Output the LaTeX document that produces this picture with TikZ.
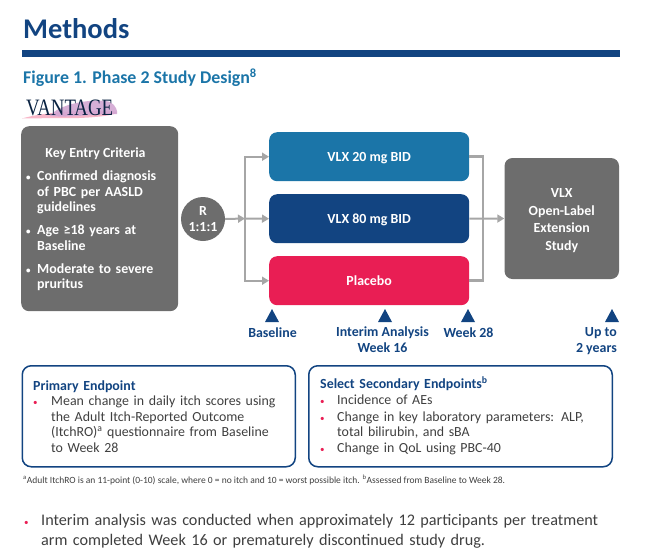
\documentclass[tikz,border=0pt]{standalone}
\usepackage{fontspec}
\usetikzlibrary{arrows.meta}
\setmainfont{Carlito}
\definecolor{navy}{HTML}{124481}
\definecolor{teal}{HTML}{1B75A8}
\definecolor{rose}{HTML}{E91E54}
\definecolor{slate}{HTML}{6D6D6D}
\definecolor{pipe}{HTML}{A6A6A6}
\definecolor{ink}{HTML}{3F3F3F}
\newcommand{\dotmark}{{\fontsize{9}{9}\selectfont\textbullet}}
\newcommand{\bul}[1]{\par\hangindent=#1\hangafter=1\noindent\makebox[#1][l]{\dotmark}}
\newcommand{\rbul}[1]{\par\hangindent=#1\hangafter=1\noindent\makebox[#1][l]{\textcolor{rose}{\dotmark}}}
\newcommand{\brk}{\hfill\break}
\begin{document}
\begin{tikzpicture}[x=1pt,y=-1pt]
  \tikzstyle{boldtext}=[font=\fontsize{13.9}{15.5}\selectfont\bfseries]
  \tikzstyle{graybox}=[fill=slate, text=white, rounded corners=8pt, inner sep=0pt, boldtext]
  \tikzstyle{arm}=[rounded corners=8pt, text=white, minimum width=200pt, minimum height=49pt, inner sep=0pt, text height=9pt, text depth=0pt, boldtext]
  \tikzstyle{pipeline}=[draw=pipe, line width=2.5pt]
  \tikzstyle{flow}=[draw=pipe, line width=2pt, -{Triangle[length=7pt,width=8pt]}]
  \tikzstyle{when}=[text=navy, inner sep=0pt, align=center, boldtext, anchor=base]
  \tikzstyle{endpoint}=[draw=navy, line width=1.5pt, rounded corners=9pt, anchor=north west, inner sep=0pt]
  \tikzstyle{bodytext}=[text=ink, inner sep=0pt, anchor=north west, font=\fontsize{13.9}{15.5}\selectfont]
  \useasboundingbox (0,0) rectangle (645,558);
  % heading
  \node[anchor=base west, inner sep=0pt, text=navy, font=\fontsize{28.5}{30}\selectfont\bfseries] (title) at (23,38) {Methods};
  \fill[navy] (22,50) rectangle (620,56.5);
  \node[anchor=base west, inner sep=0pt, text=teal, font=\fontsize{17.9}{20}\selectfont\bfseries] (figtitle) at (23,83.5) {Figure 1. Phase 2 Study Design\textsuperscript{8}};
  % logo with its brush stroke
  \fill[rose!40, opacity=.8] (22,118.5) .. controls (40,113) and (80,109) .. (117,112) .. controls (118,116) and (80,119) .. (60,118) -- cycle;
  \fill[violet!35!white, opacity=.9] (50,116) .. controls (60,102) and (100,98) .. (110,102) .. controls (116,105) and (118,112) .. (117,114) .. controls (90,114) and (70,118) .. (50,116) -- cycle;
  \node[anchor=base west, inner sep=0pt, text=navy!50!black, font=\fontspec{Liberation Serif}\fontsize{23.5}{24}\selectfont] (logo) at (26,115) {\scalebox{0.8}[1]{VANTAGE}};
  % criteria and randomisation
  \node[graybox, minimum width=157pt, minimum height=185pt, anchor=north west] (criteria) at (21,126) {};
  \node[anchor=base, inner sep=0pt, text=white, boldtext] (critlabel) at (95.5,157.7) {Key Entry Criteria};
  \node[inner sep=0pt, anchor=north west, text width=145pt, text=white, boldtext] (critlist) at (26,157.5) {%
    \parskip=7.5pt
    \bul{11pt}Confirmed diagnosis\brk of PBC per AASLD\brk guidelines
    \bul{11pt}Age ≥18 years at\brk Baseline
    \bul{11pt}Moderate to severe\brk pruritus\par};
  \node[circle, fill=slate, text=white, minimum size=44pt, inner sep=0pt, align=center, boldtext] (rand) at (203,219) {R\\1:1:1};
  % treatment arms
  \node[arm, fill=teal, anchor=north west] (armlow) at (269,132) {VLX 20 mg BID};
  \node[arm, fill=navy, anchor=north west] (armhigh) at (269,194) {VLX 80 mg BID};
  \node[arm, fill=rose, anchor=north west] (armplacebo) at (269,256) {Placebo};
  \node[graybox, minimum width=114.5pt, minimum height=121pt] (extension) at (561.75,218.5) {};
  \node[align=center, inner sep=0pt, text=white, font=\fontsize{13.9}{17.4}\selectfont\bfseries] (exttext) at (561.75,220.5) {VLX\\Open-Label\\Extension\\Study};
  % connectors
  \coordinate (split) at (245,218.5);
  \coordinate (join) at (483,218.5);
  \draw[flow] (rand.east) -- (split);
  \draw[flow] (split) -- (armhigh.west);
  \draw[flow] (split) |- (armlow.west);
  \draw[flow] (split) |- (armplacebo.west);
  \draw[pipeline] (armlow.east) -| (join);
  \draw[pipeline] (armplacebo.east) -| (join);
  \draw[flow] (armhigh.east) -- (extension.west);
  % timeline
  \foreach \name/\xpos in {base/272, interim/385, wk/468, ext/612}
    \fill[navy] (\xpos-7,322) -- (\xpos,309) -- (\xpos+7,322) -- cycle;
  \node[when] (baselabel) at (272.5,337) {Baseline};
  \node[when] (interimlabel) at (382.5,352) {Interim Analysis\\Week 16};
  \node[when] (wklabel) at (468.5,337) {Week 28};
  \node[when, align=right, anchor=base east] (extlabel) at (617,352) {Up to\\2 years};
  % endpoints
  \node[endpoint, minimum width=273pt, minimum height=101pt] (primary) at (21.5,365) {};
  \node[endpoint, minimum width=303.5pt, minimum height=101pt] (secondary) at (308,365) {};
  \node[bodytext, text width=255pt] (primarytext) at (33,380.5) {%
    {\color{navy}\bfseries Primary Endpoint}
    \rbul{18pt}Mean change in daily itch scores using\brk the Adult Itch-Reported Outcome\brk (ItchRO)\textsuperscript{a} questionnaire from Baseline\brk to Week 28\par};
  \node[bodytext, text width=285pt] (secondarytext) at (320,376.5) {%
    \parskip=0.7pt
    {\color{navy}\bfseries Select Secondary Endpoints\textsuperscript{b}}
    \rbul{17pt}Incidence of AEs
    \rbul{17pt}Change in key laboratory parameters: ALP,\brk total bilirubin, and sBA
    \rbul{17pt}Change in QoL using PBC-40\par};
  % notes
  \node[anchor=base west, inner sep=0pt, text=ink, font=\fontsize{9.5}{11}\selectfont] (footnote) at (23,483) {\textsuperscript{a}Adult ItchRO is an 11-point (0-10) scale, where 0 = no itch and 10 = worst possible itch. \textsuperscript{b}Assessed from Baseline to Week 28.};
  \node[bodytext, text width=610pt, font=\fontsize{16.2}{20}\selectfont] (remark) at (24,505.5) {%
    \rbul{17pt}Interim analysis was conducted when approximately 12 participants per treatment\brk arm completed Week 16 or prematurely discontinued study drug.\par};
\end{tikzpicture}
\end{document}
